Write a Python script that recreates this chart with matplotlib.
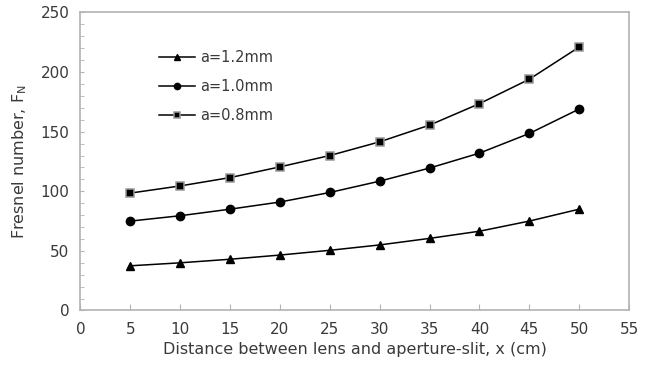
import numpy as np
import matplotlib.pyplot as plt
from matplotlib.ticker import MultipleLocator

# distance between lens and aperture-slit (cm)
x = [5, 10, 15, 20, 25, 30, 35, 40, 45, 50]
# Fresnel number for each slit width
f_12 = [37.5, 40, 43, 46.5, 50.5, 55, 60.5, 66.5, 75, 85]
f_10 = [75, 79.5, 85, 91, 99, 108.5, 119.5, 132, 148.5, 169]
f_08 = [98.5, 104.5, 111.5, 120.5, 130, 141.5, 155.5, 173.5, 194, 221]

plt.rcParams['font.family'] = 'DejaVu Sans'
txt = '#3a3a3a'
grey = '#b3b3b3'

fig = plt.figure(figsize=(6.57, 3.74), dpi=100)
ax = fig.add_axes([0.1225, 0.1698, 0.8349, 0.7968])

ax.plot(x, f_12, color='black', lw=1.1, marker='^', ms=6, mfc='black', mec='black', label='a=1.2mm')
ax.plot(x, f_10, color='black', lw=1.1, marker='o', ms=6, mfc='black', mec='black', label='a=1.0mm')
ax.plot(x, f_08, color='black', lw=1.1, marker='s', ms=6, mfc='black', mec='#999999', mew=1.1, label='a=0.8mm')

ax.set_xlim(0, 55)
ax.set_ylim(0, 250)
ax.xaxis.set_major_locator(MultipleLocator(5))
ax.yaxis.set_major_locator(MultipleLocator(50))
ax.yaxis.set_minor_locator(MultipleLocator(10))

for s in ax.spines.values():
    s.set_color(grey)
    s.set_linewidth(1.2)

ax.tick_params(axis='both', which='both', direction='in', color=grey, labelsize=11, labelcolor=txt)
ax.tick_params(axis='x', which='major', length=4, pad=8)
ax.tick_params(axis='y', which='both', length=3, pad=8)

ax.set_xlabel('Distance between lens and aperture-slit, x (cm)', fontsize=11.5, color=txt, labelpad=4)
ax.set_ylabel(r'Fresnel number, F$_{\rm N}$', fontsize=11.5, color=txt, labelpad=8)

leg = ax.legend(loc='upper left', bbox_to_anchor=(159 / 657, 1 - 50 / 374), bbox_transform=fig.transFigure,
                frameon=False, fontsize=10.5, handlelength=2.5, handletextpad=0.35, labelspacing=0.95,
                markerscale=0.75, borderaxespad=0, borderpad=0)
for t in leg.get_texts():
    t.set_color(txt)

fig.savefig('out.png', dpi=100)
